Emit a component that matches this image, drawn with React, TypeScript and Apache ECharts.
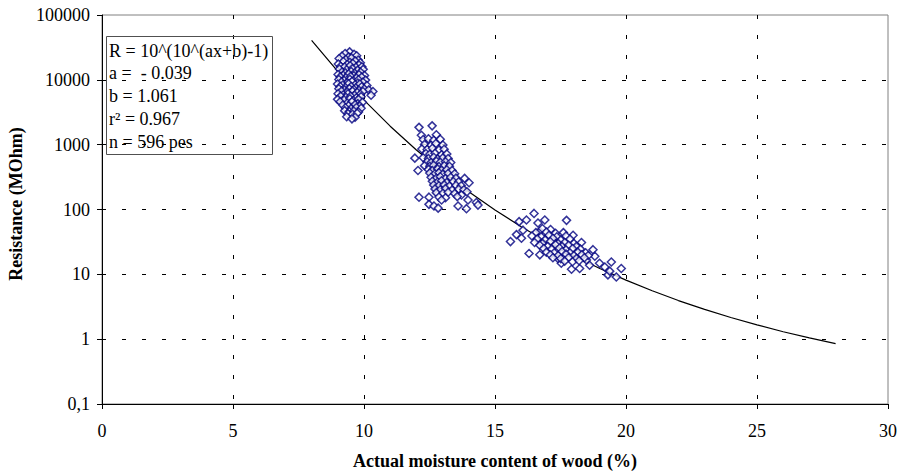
import { useEffect, useRef } from "react";
import * as echarts from "echarts";

const FONT = "Liberation Serif";

const xTickValues = [0, 5, 10, 15, 20, 25, 30];
const yTickLabels = ["0,1", "1", "10", "100", "1000", "10000", "100000"];

const xAxisTitle = "Actual moisture content of wood (%)";
const yAxisTitle = "Resistance (MOhm)";

const legendLines = [
  "R = 10^(10^(ax+b)-1)",
  "a =\u00a0\u00a0- 0.039",
  "b = 1.061",
  "r\u00b2 = 0.967",
  "n = 596 pes",
];

// fitted curve
const curveX = [8, 9, 10, 11, 12, 13, 14, 15, 16, 17, 18, 19, 20, 21, 22, 23, 24, 25, 26, 27, 28];
const curveR = [40700, 13460, 4875, 1928, 826, 381, 187.5, 98.2, 54.3, 31.6, 19.3, 12.3, 8.13, 5.57, 3.94, 2.88, 2.16, 1.66, 1.3, 1.045, 0.853];

// measured points, cluster near 9.5 %
const clusterA: [number, number][] = [
  [9.45, 27000], [9.28, 25500], [9.62, 24800], [9.16, 23200], [9.41, 22600], [9.72, 23500],
  [9.05, 21300], [9.31, 20600], [9.52, 21800], [9.78, 20200],
  [9.21, 19200], [9.46, 18700], [9.66, 19600], [9.86, 18300],
  [9.02, 17600], [9.36, 17200], [9.57, 17900], [9.81, 16900],
  [9.11, 16200], [9.26, 15800], [9.47, 16500], [9.69, 15600], [9.92, 15900],
  [9.06, 14700], [9.34, 14300], [9.56, 14900], [9.76, 14100], [9.97, 14500],
  [9.16, 13200], [9.29, 12800], [9.51, 13400], [9.64, 12700], [9.87, 13100],
  [9.01, 12100], [9.21, 11800], [9.41, 12300], [9.61, 11600], [9.81, 12000], [10.02, 11700],
  [9.09, 11100], [9.31, 10800], [9.49, 11300], [9.71, 10700], [9.91, 11000],
  [9.04, 10100], [9.24, 9800], [9.46, 10200], [9.59, 9700], [9.79, 10000], [10.06, 9900],
  [9.14, 9300], [9.36, 9000], [9.54, 9400], [9.76, 8900], [9.96, 9200],
  [8.99, 8600], [9.19, 8300], [9.41, 8700], [9.66, 8400], [9.84, 8600], [10.11, 8200],
  [9.09, 7900], [9.29, 7600], [9.51, 7900], [9.69, 7500], [9.91, 7800],
  [9.04, 7300], [9.26, 7000], [9.44, 7300], [9.61, 7100], [9.81, 6900], [10.01, 7200], [10.18, 7000],
  [9.14, 6700], [9.36, 6500], [9.56, 6700], [9.74, 6400], [9.96, 6600], [10.34, 6600],
  [9.01, 6100], [9.21, 5900], [9.39, 6100], [9.64, 5800], [9.86, 6000], [10.27, 5800],
  [9.11, 5600], [9.31, 5400], [9.49, 5600], [9.71, 5300], [9.89, 5500],
  [8.99, 5000], [9.24, 4900], [9.46, 5100], [9.59, 4800], [9.79, 5000],
  [9.09, 4600], [9.36, 4400], [9.54, 4600], [9.76, 4300], [9.94, 4500],
  [9.19, 4100], [9.41, 4000], [9.66, 4150], [9.84, 3950],
  [9.29, 3700], [9.51, 3600], [9.71, 3750], [9.89, 3650],
  [9.26, 3350], [9.44, 3250], [9.61, 3300], [9.79, 3200],
  [9.39, 3000], [9.56, 2950], [9.74, 3050],
  [9.34, 2700], [9.66, 2650],
  [9.54, 2500],
];

// measured points, cluster near 12.8 %
const clusterB: [number, number][] = [
  [12.1, 1850], [12.6, 1950], [12.19, 1400], [12.76, 1420],
  [12.26, 1200], [12.46, 1230], [12.66, 1170], [12.91, 1210],
  [12.31, 1010], [12.56, 980], [12.74, 1040], [13.01, 990],
  [12.21, 860], [12.41, 840], [12.61, 880], [12.86, 830], [13.06, 850],
  [12.36, 730], [12.51, 710], [12.71, 740], [12.96, 700], [13.16, 720],
  [11.94, 620], [12.26, 630], [12.46, 610], [12.66, 640], [12.81, 600], [13.01, 625], [13.21, 610],
  [12.41, 545], [12.56, 530], [12.76, 555], [12.91, 535], [13.11, 545], [13.31, 530],
  [12.31, 475], [12.51, 465], [12.66, 480], [12.86, 460], [13.06, 475], [13.26, 465],
  [12.06, 400], [12.46, 415], [12.61, 400], [12.81, 420], [12.96, 405], [13.16, 410], [13.36, 400],
  [12.51, 365], [12.71, 355], [12.86, 370], [13.01, 350], [13.21, 360], [13.46, 355],
  [12.56, 315], [12.76, 305], [12.91, 320], [13.11, 300], [13.31, 315], [13.51, 305], [13.84, 302],
  [12.61, 272], [12.81, 265], [12.96, 278], [13.16, 262], [13.41, 270], [13.61, 268], [14.01, 258],
  [12.66, 238], [12.86, 232], [13.06, 240], [13.26, 230], [13.51, 236], [13.71, 232],
  [12.71, 208], [12.91, 202], [13.11, 210], [13.36, 200], [13.61, 206], [13.81, 202],
  [12.76, 182], [13.01, 178], [13.21, 185], [13.46, 176], [13.93, 188], [13.72, 167],
  [12.1, 155], [12.48, 155], [12.86, 156], [13.11, 152], [13.56, 158],
  [12.96, 140], [13.97, 140],
  [12.48, 120], [12.67, 113], [12.83, 105], [13.59, 113], [13.91, 103], [14.29, 128], [14.35, 117],
];

// measured points, cluster near 17.3 %
const clusterC: [number, number][] = [
  [15.59, 32], [15.82, 41], [15.92, 65], [16.2, 69], [16.49, 87], [16.01, 36], [16.07, 48],
  [16.3, 21], [16.71, 20], [16.9, 69], [17.73, 68], [16.64, 62], [16.71, 46], [17.98, 40],
  [18.3, 31], [18.74, 24], [18.81, 19], [18.61, 13.8], [18.23, 12.3], [17.92, 12], [17.53, 14.8],
  [19.19, 13], [19.44, 15.5], [19.31, 9.8], [19.63, 9.1], [19.82, 12.3], [19.38, 11.2],
  [18.99, 14.8], [18.49, 16.6], [17.4, 17.6],
  [16.81, 51], [17.12, 49],
  [16.56, 44], [16.96, 45], [17.31, 43], [17.61, 44],
  [16.41, 39], [16.76, 38], [17.06, 40], [17.36, 38], [17.71, 39],
  [16.61, 35], [16.91, 34], [17.21, 36], [17.51, 34], [17.86, 35],
  [16.51, 31], [16.81, 30], [17.11, 32], [17.41, 30], [17.66, 31], [18.01, 30],
  [16.71, 28], [17.01, 27], [17.31, 28.5], [17.56, 27], [17.81, 28], [18.11, 27],
  [16.86, 25], [17.16, 24.5], [17.46, 25.5], [17.71, 24], [17.96, 25], [18.26, 24.5],
  [16.96, 22], [17.26, 21.5], [17.56, 22.5], [17.86, 21.5], [18.16, 22], [18.46, 21.5],
  [17.11, 20], [17.41, 19.5], [17.71, 20.5], [18.01, 19.5], [18.31, 20], [18.56, 19.5],
  [17.21, 18], [17.51, 17.5], [17.81, 18.2], [18.11, 17.6], [18.41, 18],
  [17.66, 16], [17.96, 15.6], [18.21, 16.2],
];

export default function App() {
  const ref = useRef<HTMLDivElement>(null);

  useEffect(() => {
    if (!ref.current) return;
    const chart = echarts.init(ref.current, null, { renderer: "svg" });

    const curveData = curveX.map((x, i) => [x, curveR[i]]);
    const points = [...clusterA, ...clusterB, ...clusterC];

    const legendTop = 50.7;
    const legendStep = 22.7;

    chart.setOption({
      animation: false,
      backgroundColor: "#ffffff",
      textStyle: { fontFamily: FONT },
      grid: {
        left: 102,
        right: 14,
        top: 15,
        bottom: 71,
        show: true,
        borderColor: "#808080",
        borderWidth: 1,
        backgroundColor: "transparent",
        containLabel: false,
        outerBoundsMode: "none",
      },
      xAxis: {
        type: "value",
        min: xTickValues[0],
        max: xTickValues[xTickValues.length - 1],
        interval: 5,
        name: xAxisTitle,
        nameLocation: "middle",
        nameGap: 48,
        nameTextStyle: { fontFamily: FONT, fontWeight: "bold", fontSize: 18, color: "#000" },
        axisLine: { show: true, onZero: false, lineStyle: { color: "#000", width: 1 } },
        axisTick: { show: true, inside: false, length: 5, lineStyle: { color: "#000" } },
        axisLabel: { fontFamily: FONT, fontSize: 18, color: "#000", margin: 17.5 },
        splitLine: {
          show: true,
          showMinLine: false,
          showMaxLine: false,
          lineStyle: { color: "#000", width: 1, type: [4, 16] },
        },
      },
      yAxis: {
        type: "log",
        logBase: 10,
        min: 0.1,
        max: 100000,
        splitNumber: 6,
        axisLine: { show: true, onZero: false, lineStyle: { color: "#000", width: 1 } },
        axisTick: { show: true, inside: false, length: 5, lineStyle: { color: "#000" } },
        axisLabel: {
          fontFamily: FONT,
          fontSize: 18,
          color: "#000",
          margin: 12,
          formatter: (v: number) => {
            const k = Math.round(Math.log10(v)) + 1;
            return yTickLabels[k] ?? "";
          },
        },
        splitLine: {
          show: true,
          showMinLine: false,
          showMaxLine: false,
          lineStyle: { color: "#000", width: 1, type: [4, 16] },
        },
      },
      series: [
        {
          type: "line",
          data: curveData,
          showSymbol: false,
          symbol: "none",
          smooth: false,
          lineStyle: { color: "#000", width: 1.2 },
          z: 2,
        },
        {
          type: "scatter",
          data: points,
          symbol: "diamond",
          symbolSize: 8,
          itemStyle: { color: "#ffffff", borderColor: "#000080", borderWidth: 1.5 },
          z: 3,
        },
      ],
      graphic: [
        {
          type: "text",
          x: 16,
          y: 204,
          rotation: Math.PI / 2,
          style: {
            text: yAxisTitle,
            fontFamily: FONT,
            fontWeight: "bold",
            fontSize: 18,
            fill: "#000",
            align: "center",
            verticalAlign: "middle",
          },
        },
        {
          type: "rect",
          shape: { x: 106.5, y: 36.5, width: 166, height: 118 },
          style: { fill: "none", stroke: "#505050", lineWidth: 1 },
          z: 10,
        },
        ...legendLines.map((t, i) => ({
          type: "text",
          x: 109,
          y: legendTop + i * legendStep,
          z: 10,
          style: {
            text: t,
            fontFamily: FONT,
            fontSize: 18,
            fill: "#000",
            align: "left",
            verticalAlign: "middle",
          },
        })),
      ],
    });

    return () => chart.dispose();
  }, []);

  return (
    <div
      ref={ref}
      style={{ position: "fixed", left: 0, top: 0, width: 902, height: 475, background: "#fff" }}
    />
  );
}
